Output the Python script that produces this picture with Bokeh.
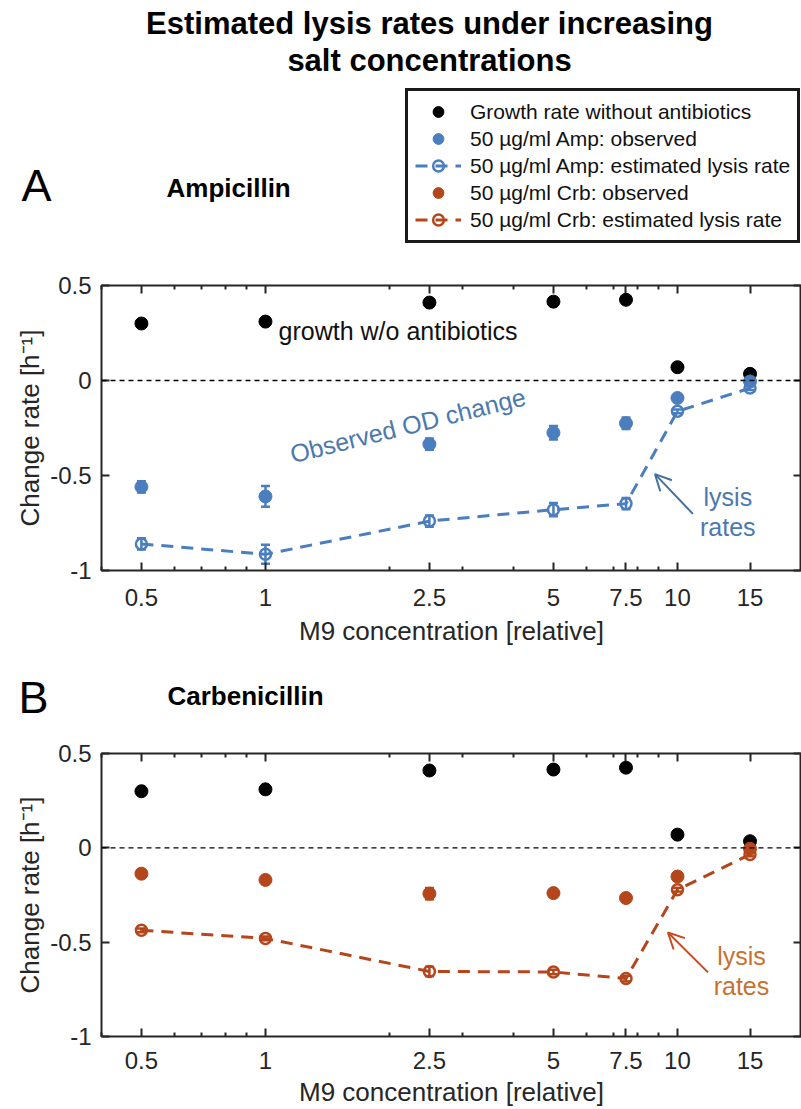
from bokeh.plotting import figure
from bokeh.models import (ColumnDataSource, Whisker, TeeHead, Span, Label, Legend, LegendItem,
                          FixedTicker, LogAxis, LinearAxis, CustomJSTickFormatter, Arrow,
                          OpenHead, Range1d)
from bokeh.layouts import column
from bokeh.embed import file_html
from bokeh.resources import INLINE

# ---------------- data ----------------
m9 = [0.5, 1, 2.5, 5, 7.5, 10, 15]
x_ticks = [0.5, 1, 2.5, 5, 7.5, 10, 15]
x_minor = [0.4, 0.6, 0.7, 0.8, 0.9, 2, 3, 4, 6, 7, 8, 9, 20]
y_ticks = [-1, -0.5, 0, 0.5]

growth = [0.30, 0.31, 0.41, 0.415, 0.425, 0.07, 0.035]
growth_err = [0.01, 0.01, 0.01, 0.01, 0.01, 0.01, 0.01]

amp_obs = [-0.56, -0.61, -0.335, -0.275, -0.225, -0.092, -0.005]
amp_obs_err = [0.03, 0.055, 0.03, 0.035, 0.03, 0.01, 0.01]
amp_lysis = [-0.86, -0.915, -0.74, -0.68, -0.648, -0.162, -0.04]
amp_lysis_err = [0.03, 0.05, 0.03, 0.035, 0.03, 0.01, 0.01]

crb_obs = [-0.137, -0.17, -0.243, -0.24, -0.266, -0.152, -0.005]
crb_obs_err = [0.01, 0.01, 0.03, 0.01, 0.01, 0.01, 0.01]
crb_lysis = [-0.437, -0.48, -0.655, -0.658, -0.693, -0.222, -0.035]
crb_lysis_err = [0.01, 0.01, 0.025, 0.012, 0.015, 0.01, 0.01]

legend_labels = ["Growth rate without antibiotics",
                 "50 \u00b5g/ml Amp: observed",
                 "50 \u00b5g/ml Amp: estimated lysis rate",
                 "50 \u00b5g/ml Crb: observed",
                 "50 \u00b5g/ml Crb: estimated lysis rate"]

# ---------------- styles ----------------
FONT = "Liberation Sans"
AX = "#262626"
BLACK = "#000000"
BLUE = "#4a7ebe"
BLUE_TXT = "#4b79ae"
BLUE_ARROW = "#46709c"
ORANGE = "#b5461b"
ORANGE_TXT = "#c8712f"
ORANGE_ARROW = "#c94a22"
W = 801


def src(y, err):
    return ColumnDataSource(data=dict(
        x=m9, y=y,
        upper=[a + b for a, b in zip(y, err)],
        lower=[a - b for a, b in zip(y, err)]))


def fmt():
    return CustomJSTickFormatter(code="return String(tick);")


def blank_fmt():
    return CustomJSTickFormatter(code="return '';")


def style_axis(ax, labels=True, minor=False):
    ax.axis_line_color = None
    ax.major_tick_in = 8
    ax.major_tick_out = 0
    ax.major_tick_line_color = AX
    ax.major_tick_line_width = 2
    if minor:
        ax.minor_tick_in = 4
        ax.minor_tick_out = 0
        ax.minor_tick_line_color = AX
        ax.minor_tick_line_width = 2
    if labels:
        ax.major_label_text_font = FONT
        ax.major_label_text_font_size = "24px"
        ax.major_label_text_color = AX
        ax.axis_label_text_font = FONT
        ax.axis_label_text_font_size = "26px"
        ax.axis_label_text_font_style = "normal"
        ax.axis_label_text_color = AX
    else:
        ax.formatter = blank_fmt()
        ax.major_label_standoff = 0
        ax.axis_label = None


def make_panel(height, border_top, border_bottom, tl_standoff, xl_standoff):
    p = figure(width=W, height=height, x_axis_type="log",
               x_range=Range1d(0.4, 20), y_range=Range1d(-1, 0.5),
               output_backend="svg", toolbar_location=None,
               min_border_left=101, min_border_right=0,
               min_border_top=border_top, min_border_bottom=border_bottom)
    p.grid.visible = False
    p.outline_line_color = AX
    p.outline_line_width = 2
    p.background_fill_color = "white"
    p.border_fill_color = "white"

    xa = p.xaxis[0]
    xa.ticker = FixedTicker(ticks=x_ticks, minor_ticks=x_minor)
    xa.formatter = fmt()
    xa.axis_label = "M9 concentration [relative]"
    style_axis(xa, True, True)
    xa.major_label_standoff = tl_standoff
    xa.axis_label_standoff = xl_standoff

    ya = p.yaxis[0]
    ya.ticker = FixedTicker(ticks=y_ticks)
    ya.formatter = fmt()
    ya.axis_label = "Change rate [h\u207b\u00b9]"
    style_axis(ya, True, False)
    ya.major_label_standoff = 10
    ya.axis_label_standoff = 2

    top = LogAxis(ticker=FixedTicker(ticks=x_ticks, minor_ticks=x_minor))
    style_axis(top, False, True)
    p.add_layout(top, "above")
    right = LinearAxis(ticker=FixedTicker(ticks=y_ticks))
    style_axis(right, False, False)
    p.add_layout(right, "right")

    p.add_layout(Span(location=0, dimension="width", line_color="black",
                      line_dash="5 4", line_width=1.3))
    return p


def make_header(height, letter, letter_y, letter_standoff):
    # x range deliberately away from the data so legend-carrier glyphs stay hidden
    h = figure(width=W, height=height, x_range=Range1d(1000, 2000), y_range=Range1d(0, height),
               x_axis_location=None, y_axis_location="left",
               output_backend="svg", toolbar_location=None,
               min_border=0, min_border_left=0, min_border_right=0,
               min_border_top=0, min_border_bottom=0)
    h.grid.visible = False
    h.outline_line_color = None
    h.background_fill_color = "white"
    h.border_fill_color = "white"
    ya = h.yaxis[0]
    ya.ticker = FixedTicker(ticks=[letter_y])
    ya.formatter = CustomJSTickFormatter(args=dict(t=letter), code="return t;")
    ya.axis_line_color = None
    ya.major_tick_line_color = None
    ya.minor_tick_line_color = None
    ya.major_label_standoff = letter_standoff
    ya.major_label_text_font = FONT
    ya.major_label_text_font_size = "45px"
    ya.major_label_text_color = "black"
    return h


def add_series(p, y, err, color, dashed):
    s = src(y, err)
    if dashed:
        p.line("x", "y", source=s, line_color=color, line_width=3, line_dash="12 8")
        p.scatter("x", "y", source=s, size=11, fill_alpha=0, line_color=color, line_width=2.5)
    else:
        p.scatter("x", "y", source=s, size=13, fill_color=color, line_color=color)
    p.add_layout(Whisker(source=s, base="x", upper="upper", lower="lower", dimension="height",
                         line_color=color, line_width=2.5,
                         upper_head=TeeHead(size=9, line_color=color, line_width=2.5),
                         lower_head=TeeHead(size=9, line_color=color, line_width=2.5)))


def label(p, text, x, y, size, color=AX, units="screen", style="normal", align="left",
          baseline="alphabetic", angle=0):
    p.add_layout(Label(x=x, y=y, x_units=units, y_units=units, text=text,
                       text_font=FONT, text_font_size=size, text_color=color,
                       text_font_style=style, text_align=align, text_baseline=baseline,
                       angle=angle, angle_units="deg"))


# ---------------- header (title, legend, panel A label) ----------------
hA = make_header(250, "A", 65, 44)
leg_series = [(growth, BLACK, False), (amp_obs, BLUE, False), (amp_lysis, BLUE, True),
              (crb_obs, ORANGE, False), (crb_lysis, ORANGE, True)]
items = []
for lab, (yv, col, dashed) in zip(legend_labels, leg_series):
    s = ColumnDataSource(data=dict(x=m9, y=yv))
    if dashed:
        r1 = hA.line("x", "y", source=s, line_color=col, line_width=3, line_dash="12 8")
        r2 = hA.scatter("x", "y", source=s, size=11, fill_alpha=0, line_color=col,
                        line_width=2.5)
        items.append(LegendItem(label=lab, renderers=[r1, r2]))
    else:
        r = hA.scatter("x", "y", source=s, size=13, fill_color=col, line_color=col)
        items.append(LegendItem(label=lab, renderers=[r]))

legend = Legend(items=items, location=(304, 7))
legend.label_text_font = FONT
legend.label_text_font_size = "21px"
legend.label_text_color = "#111111"
legend.glyph_width = 46
legend.glyph_height = 27
legend.label_height = 27
legend.label_standoff = 9
legend.padding = 7
legend.spacing = 0
legend.margin = 0
legend.border_line_color = "#1a1a1a"
legend.border_line_alpha = 1.0
legend.border_line_width = 3
legend.background_fill_alpha = 1
hA.add_layout(legend)

label(hA, "Estimated lysis rates under increasing", 328, 227, "31px", "black", style="bold",
      align="center")
label(hA, "salt concentrations", 328, 190, "31px", "black", style="bold", align="center")
label(hA, "Ampicillin", 65, 63, "26px", "black", style="bold")

# ---------------- panel A ----------------
pA = make_panel(398, 35, 76, 18, 7)
add_series(pA, growth, growth_err, BLACK, False)
add_series(pA, amp_obs, amp_obs_err, BLUE, False)
add_series(pA, amp_lysis, amp_lysis_err, BLUE, True)

label(pA, "growth w/o antibiotics", 1.076, 0.262, "25px", "#111111", units="data")
label(pA, "Observed OD change", 1.15, -0.39, "25px", BLUE_TXT, units="data", angle=14)
pA.add_layout(Arrow(end=OpenHead(size=16, line_color=BLUE_ARROW, line_width=2),
                    x_start=10.9, y_start=-0.702, x_end=8.82, y_end=-0.493,
                    line_color=BLUE_ARROW, line_width=2))
label(pA, "lysis", 13.25, -0.614, "25px", BLUE_TXT, units="data", align="center", baseline="middle")
label(pA, "rates", 13.25, -0.77, "25px", BLUE_TXT, units="data", align="center", baseline="middle")

# ---------------- header B ----------------
hB = make_header(75, "B", 26, 47)
label(hB, "Carbenicillin", 66, 28, "26px", "black", style="bold")

# ---------------- panel B ----------------
pB = make_panel(386, 30, 72, 15, 5)
add_series(pB, growth, growth_err, BLACK, False)
add_series(pB, crb_obs, crb_obs_err, ORANGE, False)
add_series(pB, crb_lysis, crb_lysis_err, ORANGE, True)

pB.add_layout(Arrow(end=OpenHead(size=16, line_color=ORANGE_ARROW, line_width=2),
                    x_start=11.86, y_start=-0.66, x_end=9.48, y_end=-0.449,
                    line_color=ORANGE_ARROW, line_width=2))
label(pB, "lysis", 14.3, -0.574, "25px", ORANGE_TXT, units="data", align="center", baseline="middle")
label(pB, "rates", 14.3, -0.733, "25px", ORANGE_TXT, units="data", align="center", baseline="middle")

layout = column(hA, pA, hB, pB, spacing=0)
open("out.html", "w").write(file_html(layout, INLINE))
